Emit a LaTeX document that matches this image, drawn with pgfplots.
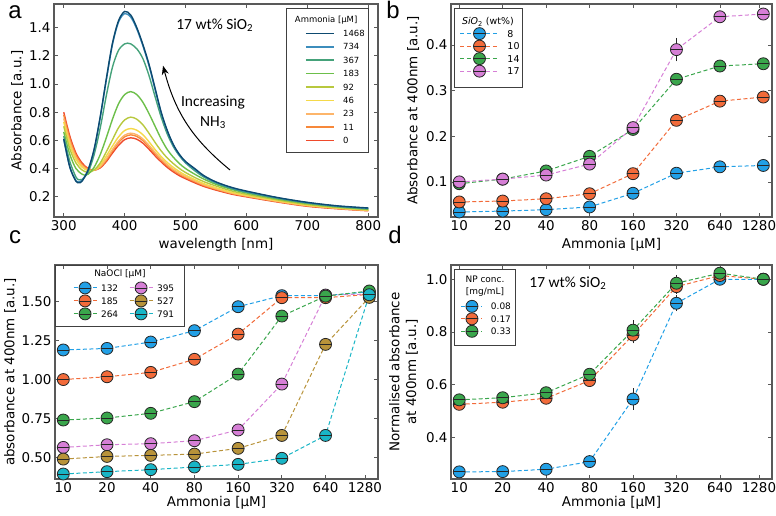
\documentclass[border=0pt]{standalone}
\usepackage{fontspec}
\setmainfont{DejaVu Sans}
\newfontfamily\carlito{Carlito}
\newfontfamily\libsans{Liberation Sans}
\usepackage{pgfplots}
\pgfplotsset{compat=1.18}
\usetikzlibrary{arrows.meta}

\newcommand\lt[2]{\makebox[#1][l]{#2}}

\definecolor{c1468}{HTML}{0D4A70}
\definecolor{c734}{HTML}{3C8DBC}
\definecolor{c367}{HTML}{45A27A}
\definecolor{c183}{HTML}{6CBF4A}
\definecolor{c92}{HTML}{B8C83E}
\definecolor{c46}{HTML}{F5D949}
\definecolor{c23}{HTML}{FDB56A}
\definecolor{c11}{HTML}{F7883A}
\definecolor{c0}{HTML}{EF4A2B}
\definecolor{sblue}{HTML}{22A0E6}
\definecolor{sorange}{HTML}{F26B3A}
\definecolor{sgreen}{HTML}{3AA64C}
\definecolor{spink}{HTML}{D67FD6}
\definecolor{solive}{HTML}{B8933A}
\definecolor{steal}{HTML}{19B5C6}

\pgfdeclareplotmark{oline}{%
  \pgfpathcircle{\pgfpointorigin}{\pgfplotmarksize}%
  \pgfusepathqfillstroke
  \pgfpathmoveto{\pgfpoint{-\pgfplotmarksize}{0pt}}%
  \pgfpathlineto{\pgfpoint{\pgfplotmarksize}{0pt}}%
  \pgfusepathqstroke
}

\pgfplotsset{
  panel/.style={
    scale only axis,
    anchor=north west,
    font=\fontsize{13.5}{16}\selectfont,
    /pgf/number format/assume math mode=true,
    tick align=inside,
    major tick length=4bp,
    tick style={black!65, line width=0.7bp},
    axis line style={black!65, line width=1.1bp},
    clip=true,
  },
  catx/.style={
    xmin=-0.19, xmax=7.2,
    xtick={0,1,2,3,4,5,6,6.9},
    xticklabels={10,20,40,80,160,320,640,1280},
    xlabel={Ammonia [µM]},
  },
  ser/.style={
    color=#1, mark=oline, mark size=6bp,
    mark options={solid, fill=#1, draw=black!85, line width=0.8bp},
    dash pattern=on 4bp off 2.5bp, line width=1bp,
    error bars/.cd, y dir=both, y explicit,
    error bar style={black!85, line width=0.8bp, solid},
    error mark options={black!85, mark size=4.5bp, line width=0.8bp},
  },
  mklegend/.style={
    legend image code/.code={\draw[mark repeat=2,mark phase=2,##1] plot coordinates {(0bp,0bp) (#1/2,0bp) (#1,0bp)};},
  },
}

\begin{document}
\begin{tikzpicture}
\path[use as bounding box] (0bp,0bp) rectangle (776bp,-516bp);

% ---------------- panel a ----------------
\begin{axis}[panel,
  at={(54bp,-4bp)}, width=324bp, height=213bp,
  xmin=284, xmax=816, ymin=0.056, ymax=1.568,
  xtick={300,400,500,600,700,800},
  ytick={0.2,0.4,0.6,0.8,1.0,1.2,1.4},
  yticklabel style={/pgf/number format/.cd, fixed, fixed zerofill, precision=1},
  xlabel={wavelength [nm]}, ylabel={Absorbance [a.u.]},
  xlabel style={at={(axis description cs:0.5,-0.131)}, anchor=center},
  ylabel style={at={(axis description cs:-0.114,0.5)}, anchor=center},
  reverse legend,
  legend image code/.code={\draw[#1, line width=1.6bp] (0bp,0bp) -- (28bp,0bp);},
  legend style={at={(axis description cs:0.775,0.877)}, anchor=north west,
    draw=none, fill=none, inner sep=0pt, outer sep=0pt,
    font=\fontsize{8.5}{10}\selectfont, row sep=7.2bp, column sep=8.5bp,
    nodes={inner sep=0pt, text height=6.2bp, text depth=0pt}},
]
\addplot[smooth, c0, line width=1.4bp] coordinates {(300,0.80)(310,0.63)(320,0.51)(330,0.44)(340,0.40)(350,0.388)(360,0.405)(370,0.45)(380,0.51)(390,0.565)(400,0.605)(410,0.618)(420,0.608)(430,0.58)(440,0.537)(450,0.49)(460,0.447)(470,0.408)(480,0.376)(490,0.349)(500,0.328)(515,0.299)(530,0.273)(550,0.247)(575,0.219)(600,0.199)(650,0.163)(700,0.132)(750,0.114)(800,0.10)};
\addlegendentry{\lt{20bp}{0}}
\addplot[smooth, c11, line width=1.4bp] coordinates {(300,0.78)(310,0.61)(320,0.495)(330,0.43)(340,0.395)(350,0.388)(360,0.41)(370,0.46)(380,0.525)(390,0.585)(400,0.625)(410,0.639)(420,0.628)(430,0.598)(440,0.553)(450,0.505)(460,0.46)(470,0.42)(480,0.387)(490,0.359)(500,0.337)(515,0.307)(530,0.28)(550,0.253)(575,0.224)(600,0.203)(650,0.166)(700,0.135)(750,0.116)(800,0.102)};
\addlegendentry{\lt{20bp}{11}}
\addplot[smooth, c23, line width=1.4bp] coordinates {(300,0.755)(310,0.59)(320,0.48)(330,0.42)(340,0.39)(350,0.388)(360,0.415)(370,0.47)(380,0.535)(390,0.595)(400,0.637)(410,0.651)(420,0.64)(430,0.61)(440,0.565)(450,0.515)(460,0.468)(470,0.428)(480,0.394)(490,0.366)(500,0.343)(515,0.313)(530,0.285)(550,0.257)(575,0.227)(600,0.206)(650,0.168)(700,0.137)(750,0.118)(800,0.103)};
\addlegendentry{\lt{20bp}{23}}
\addplot[smooth, c46, line width=1.4bp] coordinates {(300,0.73)(310,0.57)(320,0.465)(330,0.41)(340,0.385)(350,0.39)(360,0.425)(370,0.49)(380,0.56)(390,0.625)(400,0.67)(410,0.684)(420,0.672)(430,0.64)(440,0.59)(450,0.535)(460,0.485)(470,0.443)(480,0.408)(490,0.378)(500,0.353)(515,0.322)(530,0.293)(550,0.264)(575,0.232)(600,0.21)(650,0.172)(700,0.14)(750,0.12)(800,0.105)};
\addlegendentry{\lt{20bp}{46}}
\addplot[smooth, c92, line width=1.4bp] coordinates {(300,0.70)(310,0.54)(320,0.44)(330,0.39)(340,0.372)(350,0.39)(360,0.44)(370,0.52)(380,0.605)(390,0.69)(400,0.745)(410,0.765)(420,0.75)(430,0.71)(440,0.65)(450,0.585)(460,0.525)(470,0.475)(480,0.435)(490,0.40)(500,0.372)(515,0.337)(530,0.307)(550,0.276)(575,0.242)(600,0.218)(650,0.178)(700,0.145)(750,0.123)(800,0.108)};
\addlegendentry{\lt{20bp}{92}}
\addplot[smooth, c183, line width=1.4bp] coordinates {(300,0.66)(310,0.50)(320,0.40)(330,0.36)(335,0.352)(340,0.36)(350,0.41)(360,0.50)(370,0.62)(380,0.75)(390,0.86)(400,0.925)(410,0.946)(420,0.925)(430,0.87)(440,0.79)(450,0.70)(460,0.61)(470,0.535)(480,0.48)(490,0.435)(500,0.40)(515,0.36)(530,0.325)(550,0.288)(575,0.253)(600,0.227)(650,0.185)(700,0.152)(750,0.128)(800,0.112)};
\addlegendentry{\lt{20bp}{183}}
\addplot[smooth, c367, line width=1.4bp] coordinates {(300,0.63)(310,0.45)(320,0.34)(325,0.32)(330,0.322)(340,0.375)(350,0.50)(360,0.69)(370,0.92)(380,1.12)(390,1.24)(400,1.285)(405,1.29)(410,1.285)(420,1.25)(430,1.18)(440,1.06)(450,0.91)(460,0.765)(470,0.645)(480,0.555)(490,0.49)(500,0.44)(515,0.385)(530,0.34)(550,0.297)(575,0.259)(600,0.232)(650,0.19)(700,0.156)(750,0.131)(800,0.115)};
\addlegendentry{\lt{20bp}{367}}
\addplot[smooth, c734, line width=1.4bp] coordinates {(300,0.61)(310,0.41)(320,0.315)(325,0.305)(330,0.315)(340,0.39)(350,0.535)(360,0.765)(370,1.03)(380,1.28)(390,1.44)(400,1.50)(410,1.475)(420,1.39)(430,1.27)(440,1.13)(450,0.96)(460,0.795)(470,0.665)(480,0.565)(490,0.495)(500,0.445)(515,0.395)(530,0.346)(550,0.302)(575,0.264)(600,0.237)(650,0.193)(700,0.158)(750,0.133)(800,0.118)};
\addlegendentry{\lt{20bp}{734}}
\addplot[smooth, c1468, line width=1.4bp] coordinates {(300,0.61)(310,0.41)(320,0.31)(325,0.30)(330,0.31)(340,0.39)(350,0.54)(360,0.77)(370,1.04)(380,1.29)(390,1.45)(400,1.515)(410,1.49)(420,1.40)(430,1.28)(440,1.14)(450,0.97)(460,0.80)(470,0.67)(480,0.57)(490,0.50)(500,0.45)(515,0.40)(530,0.35)(550,0.305)(575,0.267)(600,0.24)(650,0.195)(700,0.16)(750,0.135)(800,0.12)};
\addlegendentry{\lt{20bp}{1468}}
\draw[black!75, line width=0.9bp] (axis description cs:0.716,0.981) rectangle (axis description cs:0.969,0.305);
\node[font=\fontsize{8.5}{10}\selectfont] at (axis description cs:0.84,0.922) {Ammonia [µM]};
\node[font=\carlito\fontsize{15.5}{18}\selectfont] at (axis cs:548,1.42) {17 wt\% SiO\textsubscript{2}};
\node[font=\carlito\fontsize{15.5}{20}\selectfont, align=center] at (axis cs:545,0.80) {Increasing\\NH\textsubscript{3}};
\draw[-{Stealth[length=9bp,width=7bp]}, line width=1bp] (axis cs:573,0.39) to[bend left=18] (axis cs:463,1.13);
\end{axis}

% ---------------- panel b ----------------
\begin{axis}[panel, catx,
  at={(451bp,-4bp)}, width=321bp, height=213bp,
  ymin=0.023, ymax=0.49,
  ytick={0.1,0.2,0.3,0.4},
  yticklabel style={/pgf/number format/.cd, fixed, fixed zerofill, precision=1},
  ylabel={Absorbance at 400nm [a.u.]},
  xlabel style={at={(axis description cs:0.5,-0.131)}, anchor=center},
  ylabel style={at={(axis description cs:-0.118,0.5)}, anchor=center},
  mklegend=38bp,
  legend style={at={(axis description cs:0.028,0.889)}, anchor=north west,
    draw=none, fill=none, inner sep=0pt, outer sep=0pt,
    font=\fontsize{9.5}{11}\selectfont, row sep=0.5bp, column sep=8.5bp,
    nodes={inner sep=0pt, text height=7bp, text depth=0pt}},
]
\addplot[ser=sblue] table[y error=e] {
x y e
0 0.034 0
1 0.036 0
2 0.039 0
3 0.045 0
4 0.075 0
5 0.119 0
6 0.133 0
7 0.136 0
};
\addlegendentry{\lt{12bp}{8}}
\addplot[ser=sorange] table[y error=e] {
x y e
0 0.056 0
1 0.058 0
2 0.063 0
3 0.074 0
4 0.118 0
5 0.235 0
6 0.277 0
7 0.286 0
};
\addlegendentry{\lt{12bp}{10}}
\addplot[ser=sgreen] table[y error=e] {
x y e
0 0.096 0
1 0.106 0
2 0.124 0
3 0.156 0
4 0.215 0
5 0.325 0
6 0.354 0
7 0.359 0
};
\addlegendentry{\lt{12bp}{14}}
\addplot[ser=spink] table[y error=e] {
x y e
0 0.100 0
1 0.106 0
2 0.115 0
3 0.139 0
4 0.219 0
5 0.390 0.016
6 0.462 0
7 0.468 0
};
\addlegendentry{\lt{12bp}{17}}
\draw[black!75, line width=0.9bp] (axis description cs:0.0093,0.981) rectangle (axis description cs:0.224,0.610);
\node[font=\fontsize{9.5}{11}\selectfont] at (axis description cs:0.115,0.917) {\textit{SiO}\textsubscript{2} (wt\%)};
\end{axis}

% ---------------- panel c ----------------
\begin{axis}[panel, catx,
  at={(55bp,-265bp)}, width=323bp, height=214bp,
  ymin=0.361, ymax=1.736,
  ytick={0.5,0.75,1.0,1.25,1.5},
  yticklabel style={/pgf/number format/.cd, fixed, fixed zerofill, precision=2},
  ylabel={absorbance at 400nm [a.u.]},
  xlabel style={at={(axis description cs:0.5,-0.112)}, anchor=center},
  ylabel style={at={(axis description cs:-0.139,0.5)}, anchor=center},
  legend columns=2,
  mklegend=23bp,
  legend style={at={(axis description cs:0.056,0.921)}, anchor=north west,
    draw=none, fill=none, inner sep=0pt, outer sep=0pt,
    font=\fontsize{9}{11}\selectfont, row sep=1bp, column sep=4bp,
    nodes={inner sep=0pt, text height=6.6bp, text depth=0pt}},
]
\addplot[ser=sblue] table {
x y
0 1.190
1 1.200
2 1.241
3 1.314
4 1.468
5 1.539
6 1.539
7 1.564
};
\addlegendentry{\lt{24bp}{132}}
\addplot[ser=spink] table {
x y
0 0.564
1 0.581
2 0.588
3 0.607
4 0.676
5 0.971
6 1.543
7 1.549
};
\addlegendentry{\lt{17bp}{395}}
\addplot[ser=sorange] table {
x y
0 1.000
1 1.018
2 1.046
3 1.130
4 1.292
5 1.526
6 1.526
7 1.547
};
\addlegendentry{\lt{24bp}{185}}
\addplot[ser=solive] table {
x y
0 0.489
1 0.506
2 0.513
3 0.521
4 0.558
5 0.641
6 1.226
7 1.528
};
\addlegendentry{\lt{17bp}{527}}
\addplot[ser=sgreen] table {
x y
0 0.740
1 0.753
2 0.783
3 0.858
4 1.035
5 1.408
6 1.536
7 1.569
};
\addlegendentry{\lt{24bp}{264}}
\addplot[ser=steal] table {
x y
0 0.393
1 0.408
2 0.421
3 0.438
4 0.455
5 0.494
6 0.641
7 1.545
};
\addlegendentry{\lt{17bp}{791}}
\draw[black!75, line width=0.9bp] (axis description cs:0,1) rectangle (axis description cs:0.402,0.715);
\node[font=\fontsize{9}{11}\selectfont] at (axis description cs:0.201,0.958) {NaOCl [µM]};
\end{axis}

% ---------------- panel d ----------------
\begin{axis}[panel, catx,
  at={(451bp,-265bp)}, width=321bp, height=214bp,
  ymin=0.243, ymax=1.054,
  ytick={0.4,0.6,0.8,1.0},
  yticklabel style={/pgf/number format/.cd, fixed, fixed zerofill, precision=1},
  ylabel={Normalised absorbance\\at 400nm [a.u.]},
  xlabel style={at={(axis description cs:0.5,-0.112)}, anchor=center},
  ylabel style={at={(axis description cs:-0.148,0.5)}, anchor=center, align=center, font=\fontsize{13.5}{17}\selectfont},
  mklegend=21bp,
  legend style={at={(axis description cs:0.031,0.835)}, anchor=north west,
    draw=none, fill=none, inner sep=0pt, outer sep=0pt,
    font=\fontsize{9}{11}\selectfont, row sep=0.5bp, column sep=8bp,
    nodes={inner sep=0pt, text height=6.6bp, text depth=0pt}},
]
\addplot[ser=sblue] table[y error=e] {
x y e
0 0.270 0
1 0.271 0
2 0.280 0
3 0.309 0
4 0.546 0.024
5 0.909 0.013
6 1.000 0.004
7 1.000 0
};
\addlegendentry{\lt{18bp}{0.08}}
\addplot[ser=sorange] table[y error=e] {
x y e
0 0.526 0
1 0.534 0
2 0.549 0
3 0.616 0
4 0.789 0.015
5 0.972 0.012
6 1.014 0.008
7 1.000 0
};
\addlegendentry{\lt{18bp}{0.17}}
\addplot[ser=sgreen] table[y error=e] {
x y e
0 0.543 0
1 0.551 0
2 0.570 0
3 0.640 0
4 0.807 0.02
5 0.985 0.015
6 1.023 0.008
7 1.000 0
};
\addlegendentry{\lt{18bp}{0.33}}
\draw[black!75, line width=0.9bp] (axis description cs:0.0093,0.981) rectangle (axis description cs:0.202,0.626);
\node[font=\fontsize{9}{12.3}\selectfont, align=center] at (axis description cs:0.106,0.9015) {NP conc.\\{[mg/mL]}};
\node[font=\carlito\fontsize{15.5}{18}\selectfont] at (axis cs:2.5,0.986) {17 wt\% SiO\textsubscript{2}};
\end{axis}

% panel letters
\node[font=\libsans\fontsize{24}{24}\selectfont] at (15bp,-12bp) {a};
\node[font=\libsans\fontsize{24}{24}\selectfont] at (393bp,-10bp) {b};
\node[font=\libsans\fontsize{24}{24}\selectfont] at (15bp,-237bp) {c};
\node[font=\libsans\fontsize{24}{24}\selectfont] at (395bp,-235bp) {d};
\end{tikzpicture}
\end{document}
